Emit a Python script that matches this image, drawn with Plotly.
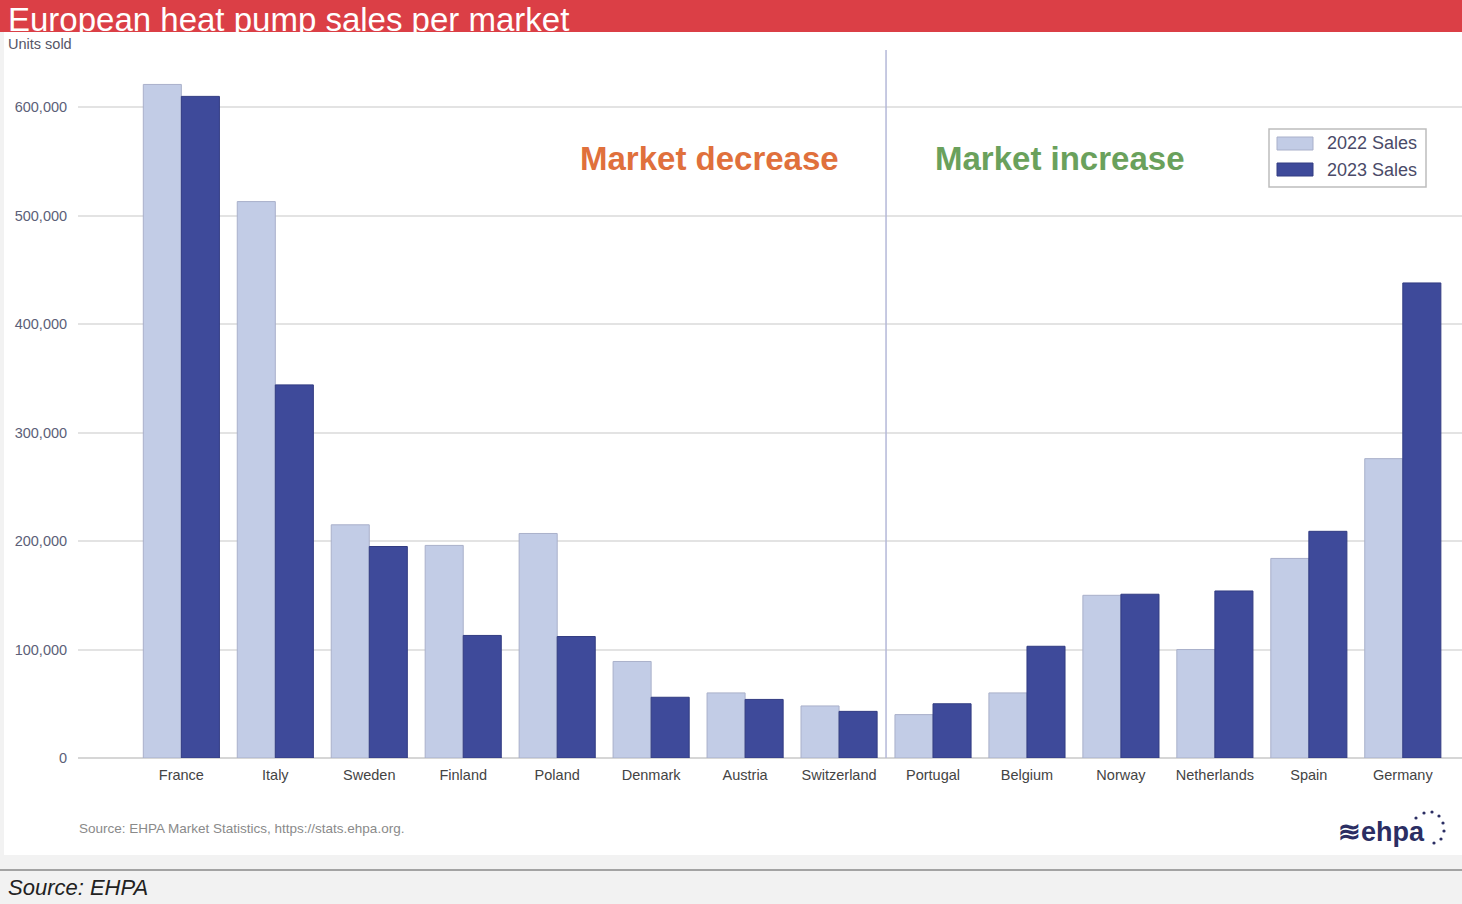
import plotly.graph_objects as go

W, H = 1462, 904

countries = ["France", "Italy", "Sweden", "Finland", "Poland", "Denmark", "Austria",
             "Switzerland", "Portugal", "Belgium", "Norway", "Netherlands", "Spain", "Germany"]
sales_2022 = [621000, 513000, 215000, 196000, 207000, 89000, 60000,
              48000, 40000, 60000, 150000, 100000, 184000, 276000]
sales_2023 = [610000, 344000, 195000, 113000, 112000, 56000, 54000,
              43000, 50000, 103000, 151000, 154000, 209000, 438000]
y_ticks = [0, 100000, 200000, 300000, 400000, 500000, 600000]
y_tick_labels = ["0", "100,000", "200,000", "300,000", "400,000", "500,000", "600,000"]

FONT = "Liberation Sans, Arial, Helvetica, sans-serif"
C22 = "#c2cce6"
C23 = "#3e4a9a"


def px(x):
    return x / W


def py(y):
    return 1 - y / H


fig = go.Figure()
fig.add_trace(go.Bar(x=countries, y=sales_2022, name="2022 Sales",
                     marker=dict(color=C22, line=dict(color="#a9b0ca", width=1))))
fig.add_trace(go.Bar(x=countries, y=sales_2023, name="2023 Sales",
                     marker=dict(color=C23, line=dict(color="#323c82", width=1))))

shapes = []
# page background blocks
shapes.append(dict(type="rect", xref="paper", yref="paper", x0=0, x1=1, y0=py(32), y1=1,
                   fillcolor="#db3f46", line=dict(width=0), layer="below"))
shapes.append(dict(type="rect", xref="paper", yref="paper", x0=0, x1=1, y0=0, y1=py(855),
                   fillcolor="#f2f2f2", line=dict(width=0), layer="below"))
shapes.append(dict(type="rect", xref="paper", yref="paper", x0=0, x1=px(4), y0=py(855), y1=py(32),
                   fillcolor="#f2f2f2", line=dict(width=0), layer="below"))
shapes.append(dict(type="line", xref="paper", yref="paper", x0=0, x1=1, y0=py(870), y1=py(870),
                   line=dict(color="#555555", width=1)))
# divider between decrease / increase markets
shapes.append(dict(type="line", xref="x", yref="paper", x0=7.5, x1=7.5, y0=py(758), y1=py(50),
                   line=dict(color="#b4b8d8", width=1.5)))
# manual legend
shapes.append(dict(type="rect", xref="paper", yref="paper", x0=px(1269), x1=px(1426),
                   y0=py(187), y1=py(129), line=dict(color="#bdbdbd", width=1.5),
                   fillcolor="white"))
shapes.append(dict(type="rect", xref="paper", yref="paper", x0=px(1277), x1=px(1313),
                   y0=py(150), y1=py(137), fillcolor=C22, line=dict(color="#a9b0ca", width=1)))
shapes.append(dict(type="rect", xref="paper", yref="paper", x0=px(1277), x1=px(1313),
                   y0=py(176), y1=py(163), fillcolor=C23, line=dict(color="#323c82", width=1)))
# ehpa logo dots
dots = [(1416, 818), (1424, 813), (1432, 812), (1439, 816), (1443, 823), (1444, 831),
        (1441, 839), (1434, 843)]
for (dx, dy) in dots:
    shapes.append(dict(type="circle", xref="paper", yref="paper",
                       x0=px(dx - 1.6), x1=px(dx + 1.6), y0=py(dy + 1.6), y1=py(dy - 1.6),
                       fillcolor="#2b2e63", line=dict(width=0)))

annotations = [
    dict(text="European heat pump sales per market", x=px(6), y=py(19), xref="paper", yref="paper",
         xanchor="left", yanchor="middle", showarrow=False,
         font=dict(family=FONT, size=33, color="white")),
    dict(text="Units sold", x=px(6), y=py(44), xref="paper", yref="paper",
         xanchor="left", yanchor="middle", showarrow=False,
         font=dict(family=FONT, size=14.5, color="#555566")),
    dict(text="<b>Market decrease</b>", x=px(709), y=py(158), xref="paper", yref="paper",
         xanchor="center", yanchor="middle", showarrow=False,
         font=dict(family=FONT, size=33, color="#e0703c")),
    dict(text="<b>Market increase</b>", x=px(1059), y=py(158), xref="paper", yref="paper",
         xanchor="center", yanchor="middle", showarrow=False,
         font=dict(family=FONT, size=33, color="#6aa15c")),
    dict(text="2022 Sales", x=px(1325), y=py(143), xref="paper", yref="paper",
         xanchor="left", yanchor="middle", showarrow=False,
         font=dict(family=FONT, size=18, color="#4a4a68")),
    dict(text="2023 Sales", x=px(1325), y=py(170), xref="paper", yref="paper",
         xanchor="left", yanchor="middle", showarrow=False,
         font=dict(family=FONT, size=18, color="#4a4a68")),
    dict(text="Source: EHPA Market Statistics, https://stats.ehpa.org.", x=px(77), y=py(828),
         xref="paper", yref="paper", xanchor="left", yanchor="middle", showarrow=False,
         font=dict(family=FONT, size=13.5, color="#8a8a8a")),
    dict(text="<b>≋ehpa</b>", x=px(1336), y=py(832), xref="paper", yref="paper",
         xanchor="left", yanchor="middle", showarrow=False,
         font=dict(family=FONT, size=27, color="#2b2e63")),
    dict(text="<i>Source: EHPA</i>", x=px(6), y=py(887), xref="paper", yref="paper",
         xanchor="left", yanchor="middle", showarrow=False,
         font=dict(family=FONT, size=22, color="#222222")),
]

fig.update_layout(
    width=W, height=912,
    margin=dict(l=0, r=0, t=0, b=0),
    paper_bgcolor="white", plot_bgcolor="white",
    barmode="group", bargap=0.19, bargroupgap=0,
    showlegend=False,
    shapes=shapes, annotations=annotations,
    font=dict(family=FONT),
    xaxis=dict(domain=[px(78), 1], range=[-1.1, 13.63], showgrid=False, showline=False,
               zeroline=False, ticks="outside", ticklen=4, tickcolor="rgba(0,0,0,0)",
               tickfont=dict(family=FONT, size=14.5, color="#444444")),
    yaxis=dict(domain=[py(758), py(53)], range=[0, 650000], tickvals=y_ticks,
               ticktext=y_tick_labels, showgrid=True, gridcolor="#e3e3e3", gridwidth=1.5,
               zeroline=True, zerolinecolor="#d6d6d6", zerolinewidth=1.5, showline=False,
               ticks="outside", ticklen=7, tickcolor="rgba(0,0,0,0)",
               tickfont=dict(family=FONT, size=14.5, color="#5c5f78")),
)

fig.write_html("out.html")
